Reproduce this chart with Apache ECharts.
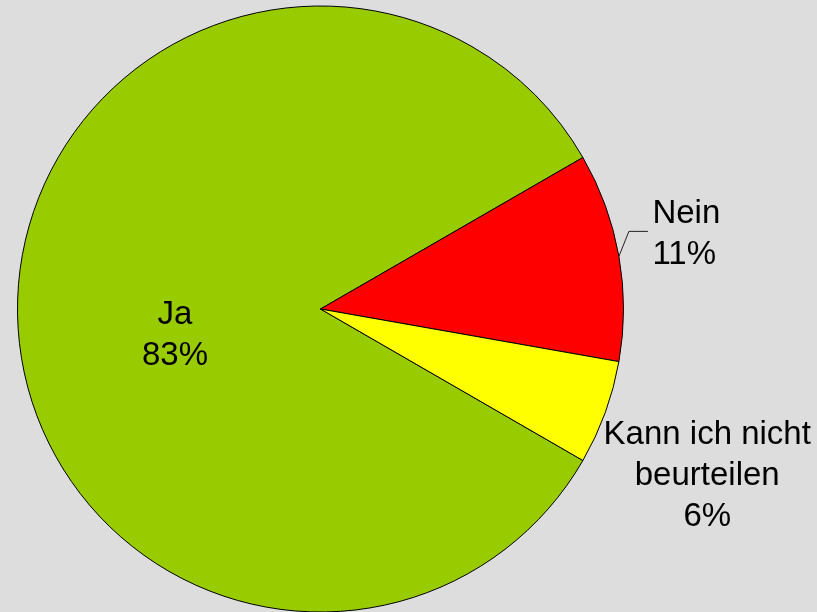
<!DOCTYPE html>
<html>
<head>
<meta charset="utf-8">
<script src="https://cdn.jsdelivr.net/npm/echarts@6/dist/echarts.min.js"></script>
<style>
  html, body { margin: 0; padding: 0; background: #dddddd; }
  #main { width: 817px; height: 612px; }
</style>
</head>
<body>
<div id="main"></div>
<script>
// data (15 / 2 / 1 answers -> 83% / 11% / 6%)
var categories = ['Ja', 'Nein', 'Kann ich nicht\nbeurteilen'];
var counts = [15, 2, 1];
var colors = ['#99cc00', '#ff0000', '#ffff00'];

// pie geometry
var cx = 320.5, cy = 309, R = 303, startAngle = 330;

// mid angle of each slice (degrees, clockwise from startAngle)
var total = counts.reduce(function (s, v) { return s + v; }, 0);
var midAngles = [];
var cum = 0;
for (var i = 0; i < counts.length; i++) {
  midAngles.push(startAngle - (cum + counts[i] / 2) / total * 360);
  cum += counts[i];
}

function polar(deg, r) {
  var a = deg * Math.PI / 180;
  return [cx + r * Math.cos(a), cy - r * Math.sin(a)];
}

var myChart = echarts.init(document.getElementById('main'));

var option = {
  backgroundColor: '#dddddd',
  animation: false,
  series: [{
    type: 'pie',
    center: [cx, cy],
    radius: R,
    startAngle: startAngle,
    clockwise: true,
    avoidLabelOverlap: false,
    percentPrecision: 0,
    emphasis: { disabled: true },
    itemStyle: { borderColor: '#000', borderWidth: 1 },
    label: {
      show: true,
      position: 'outside',
      formatter: '{b}\n{d}%',
      color: '#000',
      fontFamily: 'Liberation Sans, Arial, sans-serif',
      fontSize: 33,
      lineHeight: 41,
      overflow: 'none'
    },
    labelLine: {
      show: true,
      lineStyle: { color: '#222', width: 1 }
    },
    labelLayout: function (params) {
      var i = params.dataIndex;
      if (i === 0) {
        var p = polar(midAngles[0], R / 2);
        return { x: p[0] + 6, y: p[1] + 26, align: 'center', verticalAlign: 'middle' };
      }
      if (i === 1) {
        var p0 = polar(midAngles[1], R);
        var p1 = [p0[0] + 10, p0[1] - 25];
        var p2 = [p1[0] + 19, p1[1]];
        return {
          x: p2[0] + 4.5, y: p2[1] + 3.5,
          align: 'left', verticalAlign: 'middle',
          labelLinePoints: [p0, p1, p2]
        };
      }
      var q = polar(midAngles[2], R);
      return { x: q[0] + 102, y: q[1] + 63, align: 'center', verticalAlign: 'middle' };
    },
    data: categories.map(function (name, i) {
      var d = { name: name, value: counts[i], itemStyle: { color: colors[i] } };
      if (i === 0) d.label = { position: 'inside' };
      if (i === 2) d.labelLine = { show: false };
      return d;
    })
  }]
};

myChart.setOption(option);
</script>
</body>
</html>
